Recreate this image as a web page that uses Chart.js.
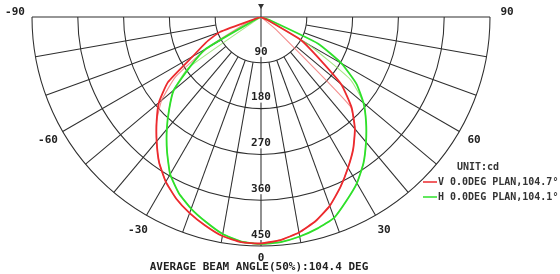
<!DOCTYPE html>
<html>
<head>
<meta charset="utf-8">
<script src="https://cdn.jsdelivr.net/npm/chart.js@4.4.1/dist/chart.umd.min.js"></script>
<style>
  html, body { margin: 0; padding: 0; background: #fff; }
</style>
</head>
<body>
<canvas id="polar" width="560" height="274"></canvas>
<script>
// angles in degrees, 0 = straight down, negative = left half
const ANGLES = [-90,-85,-80,-75,-70,-65,-60,-55,-50,-45,-40,-35,-30,-25,-20,-15,-10,-5,0,5,10,15,20,25,30,35,40,45,50,55,60,65,70,75,80,85,90];

// intensity in cd
const V_PLAN = [0,0,0,5,86,120,155,223,262,290,319,349,374,394,410,424,437,444,445,440,430,415,395,369,342,316,287,252,206,134,91,15,0,0,0,0,0];
const V_PLAN_BACK = [0,0,0,0,15,45,120,205,255,290,319,349,374,394,410,424,437,444,445,440,430,415,395,369,342,316,287,248,40,0,0,0,0,0,0,0,0];
const H_PLAN = [0,0,0,0,3,12,125,170,224,255,288,322,357,382,401,417,433,443,446,444,438,430,420,398,377,351,321,292,263,229,183,124,20,0,0,0,0];
const H_PLAN_BACK = [0,0,0,0,0,0,5,175,224,255,288,322,357,382,401,417,433,443,446,444,438,430,420,398,377,351,321,292,263,215,106,10,0,0,0,0,0];

const RINGS = [90, 180, 270, 360, 450];
const SPOKES = [-80,-70,-60,-50,-40,-30,-20,-10,10,20,30,40,50,60,70,80];
const ANGLE_TICKS = [-90, -60, -30, 0, 30, 60, 90];

const LEGEND = ["V 0.0DEG PLAN,104.7°", "H 0.0DEG PLAN,104.1°"];
const UNIT = "UNIT:cd";
const TITLE = "AVERAGE BEAM ANGLE(50%):104.4 DEG";

const RED = "#ec2a2e";
const GREEN = "#2ee02a";
const MONO = "'DejaVu Sans Mono', monospace";

function toXY(vals) {
    return vals.map((r, i) => {
        const a = ANGLES[i] * Math.PI / 180;
        return {x: r * Math.sin(a), y: -r * Math.cos(a)};
    });
}

const gridPlugin = {
    id: "polarGrid",
    beforeDatasetsDraw(chart) {
        const {ctx, scales: {x, y}} = chart;
        const cx = x.getPixelForValue(0);
        const cy = y.getPixelForValue(0);
        const rad = (v) => x.getPixelForValue(v) - cx;
        const rMax = rad(RINGS[RINGS.length - 1]);
        const rMin = rad(RINGS[0]);

        ctx.save();
        ctx.strokeStyle = "#2e2e2e";
        ctx.lineWidth = 1.05;

        RINGS.forEach((v) => {
            ctx.beginPath();
            ctx.arc(cx, cy, rad(v), 0, Math.PI);
            ctx.stroke();
        });

        SPOKES.forEach((d) => {
            const a = d * Math.PI / 180;
            ctx.beginPath();
            ctx.moveTo(cx + rMin * Math.sin(a), cy + rMin * Math.cos(a));
            ctx.lineTo(cx + rMax * Math.sin(a), cy + rMax * Math.cos(a));
            ctx.stroke();
        });

        // horizontal and vertical axes
        ctx.beginPath();
        ctx.moveTo(cx - rMax, cy);
        ctx.lineTo(cx + rMax, cy);
        ctx.moveTo(cx, cy - 11);
        ctx.lineTo(cx, cy + rMax);
        ctx.stroke();

        // little marker on top
        ctx.fillStyle = "#333";
        ctx.beginPath();
        ctx.moveTo(cx - 3, cy - 13);
        ctx.lineTo(cx + 3, cy - 13);
        ctx.lineTo(cx, cy - 8);
        ctx.closePath();
        ctx.fill();
        ctx.restore();
    },
    afterDatasetsDraw(chart) {
        const {ctx, scales: {x, y}} = chart;
        const cx = x.getPixelForValue(0);
        const cy = y.getPixelForValue(0);
        const rad = (v) => x.getPixelForValue(v) - cx;
        const rMax = rad(RINGS[RINGS.length - 1]);

        ctx.save();
        ctx.font = "bold 11px " + MONO;
        ctx.textAlign = "center";
        ctx.textBaseline = "middle";

        // ring values
        RINGS.forEach((v) => {
            const ty = cy + rad(v) - 11;
            const w = ctx.measureText(String(v)).width;
            ctx.fillStyle = "#fff";
            ctx.fillRect(cx - w / 2 - 1, ty - 5, w + 2, 10);
            ctx.fillStyle = "#222";
            ctx.fillText(String(v), cx, ty);
        });

        // angle labels
        ANGLE_TICKS.forEach((d) => {
            const a = d * Math.PI / 180;
            let r = rMax + 17;
            let dy = 0;
            if (d === 0) r = rMax + 12;
            if (Math.abs(d) === 90) dy = -5;
            ctx.fillStyle = "#222";
            ctx.fillText(String(d), cx + r * Math.sin(a), cy + r * Math.cos(a) + dy);
        });

        // bottom title
        ctx.fillText(TITLE, cx - 2, 267);

        // legend
        ctx.font = "bold 10px " + MONO;
        ctx.textAlign = "left";
        ctx.fillStyle = "#333";
        ctx.fillText(UNIT, 457, 167);
        [RED, GREEN].forEach((c, i) => {
            const ly = 182 + i * 15;
            ctx.strokeStyle = c;
            ctx.lineWidth = 1.5;
            ctx.beginPath();
            ctx.moveTo(423, ly);
            ctx.lineTo(437, ly);
            ctx.stroke();
            ctx.fillStyle = "#333";
            ctx.fillText(LEGEND[i], 438, ly);
        });
        ctx.restore();
    }
};

const lineSet = (label, vals, color, width) => ({
    label: label,
    data: toXY(vals),
    showLine: true,
    borderColor: color,
    backgroundColor: color,
    borderWidth: width,
    pointRadius: 0,
    tension: 0.15,
});

new Chart(document.getElementById("polar"), {
    type: "scatter",
    data: {
        datasets: [
            lineSet(LEGEND[0], V_PLAN, RED, 1.8),
            lineSet(LEGEND[1], H_PLAN, GREEN, 1.8),
            lineSet("V back", V_PLAN_BACK, "rgba(240,110,110,0.8)", 1.1),
            lineSet("H back", H_PLAN_BACK, "rgba(140,225,100,0.8)", 1.1),
        ],
    },
    options: {
        responsive: false,
        animation: false,
        layout: {
            padding: {left: 32, right: 70, top: 17, bottom: 28},
        },
        scales: {
            x: {type: "linear", min: -450, max: 450, display: false},
            y: {type: "linear", min: -450, max: 0, display: false},
        },
        plugins: {
            legend: {display: false},
            tooltip: {enabled: false},
        },
    },
    plugins: [gridPlugin],
});
</script>
</body>
</html>
